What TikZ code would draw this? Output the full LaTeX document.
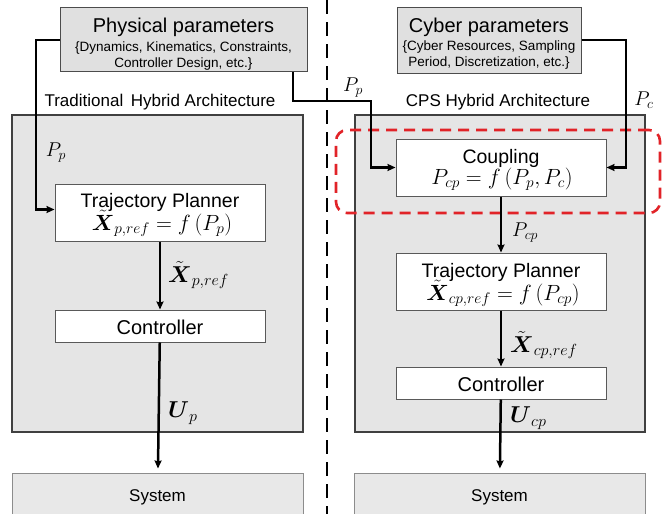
\RequirePackage{fix-cm}
\documentclass[tikz,border=0pt]{standalone}
\usepackage{amsmath}
\usepackage{fontspec}
\setmainfont{Liberation Sans}
\usetikzlibrary{arrows.meta}
\definecolor{hlred}{RGB}{225,35,40}
\definecolor{pfill}{RGB}{224,224,224}
\definecolor{cfill}{RGB}{229,229,229}
\definecolor{sfill}{RGB}{232,232,232}
\tikzset{
  parambox/.style={draw=black!70, line width=1pt, fill=pfill, inner sep=0pt},
  contbox/.style={draw=black!75, line width=1.2pt, fill=cfill, inner sep=0pt},
  wbox/.style={draw=black!65, line width=1pt, fill=white, inner sep=0pt, minimum width=210pt},
  sysbox/.style={draw=black!45, line width=1pt, fill=sfill, inner sep=0pt, minimum width=291pt, minimum height=57pt},
  hlbox/.style={draw=hlred, line width=2.6pt, dash pattern=on 11pt off 7pt, rounded corners=11pt, inner sep=0pt},
  conn/.style={line width=2.5pt, -{Stealth[length=8pt,width=7pt,inset=1pt]}},
  lbl/.style={inner sep=0pt},
  txt/.style={inner sep=0pt, anchor=base},
}
\newcommand{\bigtxt}{\fontsize{20}{22}\selectfont}
\newcommand{\midtxt}{\fontsize{19.5}{21}\selectfont}
\newcommand{\ctrltxt}{\fontsize{20}{22}\selectfont}
\newcommand{\smalltxt}{\fontsize{13.5}{16}\selectfont}
\newcommand{\archtxt}{\fontsize{17}{19}\selectfont}
\newcommand{\boxmath}{\fontsize{22}{24}\selectfont}
\newcommand{\lblmath}{\fontsize{20}{22}\selectfont}
\newcommand{\biglbl}{\fontsize{23}{25}\selectfont}
\begin{document}
\begin{tikzpicture}[x=1pt,y=-1pt]
\useasboundingbox (0,0) rectangle (667,514);
\clip (0,0) rectangle (667,514);
% divider
\coordinate (dTop) at (327,0);
\coordinate (dBot) at (327,514);
\draw[line width=1.5pt, dash pattern=on 14pt off 8pt] (dTop) -- (dBot);
% parameter boxes
\node[parambox, minimum width=247pt, minimum height=64pt] (phys) at (183.5,39) {};
\node[txt] (physT) at (183.5,32) {\bigtxt Physical parameters};
\node[txt] (physA) at (183.5,51.5) {\smalltxt \{Dynamics, Kinematics, Constraints,};
\node[txt] (physB) at (183.5,67) {\smalltxt Controller Design, etc.\}};
\node[parambox, minimum width=184pt, minimum height=66pt] (cyber) at (489,40) {};
\node[txt] (cyberT) at (489,32) {\bigtxt Cyber parameters};
\node[txt] (cyberA) at (489,50.5) {\smalltxt \{Cyber Resources, Sampling};
\node[txt] (cyberB) at (489,66) {\smalltxt Period, Discretization, etc.\}};
% architecture titles
\node[txt] (tTrad) at (160,106) {\archtxt Traditional\, Hybrid Architecture};
\node[txt] (tCps) at (498,106) {\archtxt CPS Hybrid Architecture};
% containers
\node[contbox, minimum width=291pt, minimum height=317pt] (contL) at (157.5,273.5) {};
\node[contbox, minimum width=290pt, minimum height=317pt] (contR) at (500,273.5) {};
% system boxes
\node[sysbox] (sysL) at (157.5,501.5) {};
\node[txt] (sysLt) at (157.5,501.5) {\archtxt System};
\node[sysbox] (sysR) at (499.5,501.5) {};
\node[txt] (sysRt) at (499.5,501.5) {\archtxt System};
% highlight
\node[hlbox, minimum width=324pt, minimum height=83pt] (hl) at (498,171.5) {};
% left boxes
\node[wbox, minimum height=57pt] (tpL) at (160,212.5) {};
\node[txt] (tpLt) at (160,207) {\midtxt Trajectory Planner};
\node[txt] (tpLm) at (162,230) {\boxmath $\tilde{\boldsymbol{X}}_{p,ref}=f\left(P_p\right)$};
\node[wbox, minimum height=32pt] (ctrlL) at (160,326) {};
\node[txt] (ctrlLt) at (160,334) {\ctrltxt Controller};
% right boxes
\node[wbox, minimum height=57pt] (coup) at (501,167.5) {};
\node[txt] (coupT) at (501,163) {\midtxt Coupling};
\node[txt] (coupM) at (502,184) {\boxmath $P_{cp}=f\left(P_p,P_c\right)$};
\node[wbox, minimum height=57pt] (tpR) at (501,281.5) {};
\node[txt] (tpRt) at (501,277) {\midtxt Trajectory Planner};
\node[txt] (tpRm) at (503,300) {\boxmath $\tilde{\boldsymbol{X}}_{cp,ref}=f\left(P_{cp}\right)$};
\node[wbox, minimum height=32pt] (ctrlR) at (501,383) {};
\node[txt] (ctrlRt) at (501,391) {\ctrltxt Controller};
% connectors
\coordinate (ppL) at (36,40);
\draw[conn] (phys.west |- ppL) -- (ppL) |- ([yshift=3pt]tpL.west);
\coordinate (ppA) at (293,101);
\coordinate (ppB) at (371,101);
\draw[conn] (phys.south -| ppA) -- (ppA) -- (ppB) |- (coup.west);
\coordinate (pcA) at (626,40);
\draw[conn] (cyber.east |- pcA) -- (pcA) |- (coup.east);
\draw[conn] (tpL) -- (ctrlL);
\draw[conn, shorten >=4pt] (ctrlL) -- (sysL);
\draw[conn] (coup) -- (tpR);
\draw[conn] (tpR) -- (ctrlR);
\draw[conn, shorten >=4pt] (ctrlR) -- (sysR);
% labels
\node[lbl] (lPpL) at (56,153) {\lblmath $P_p$};
\node[lbl] (lPpT) at (353,88) {\lblmath $P_p$};
\node[lbl] (lPc) at (644,100) {\lblmath $P_c$};
\node[lbl, anchor=west] (lXp) at (168,275) {\biglbl $\tilde{\boldsymbol{X}}_{p,ref}$};
\node[lbl, anchor=west] (lUp) at (168,413) {\biglbl $\boldsymbol{U}_p$};
\node[lbl, anchor=west] (lPcp) at (512,233) {\lblmath $P_{cp}$};
\node[lbl, anchor=west] (lXcp) at (510,345) {\biglbl $\tilde{\boldsymbol{X}}_{cp,ref}$};
\node[lbl, anchor=west] (lUcp) at (510,418) {\biglbl $\boldsymbol{U}_{cp}$};
\end{tikzpicture}
\end{document}
